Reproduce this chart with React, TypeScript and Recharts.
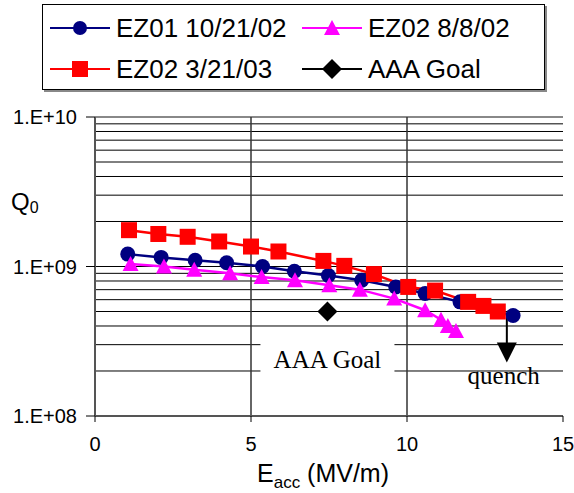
import React from 'react';
import {
  ComposedChart,
  Line,
  ReferenceDot,
  ReferenceLine,
  XAxis,
  YAxis,
} from 'recharts';

// EZ01 10/21/02
const ez01X = [1.05, 2.12, 3.21, 4.22, 5.37, 6.39, 7.48, 8.55, 9.64, 10.58, 11.7, 13.4];
const ez01Q = [1.21e9, 1.15e9, 1.1e9, 1.06e9, 1.0e9, 0.93e9, 0.87e9, 0.81e9, 0.73e9, 0.66e9, 0.58e9, 0.47e9];

// EZ02 8/8/02
const ez02aX = [1.14, 2.21, 3.18, 4.33, 5.34, 6.41, 7.51, 8.49, 9.59, 10.58, 11.09, 11.31, 11.57];
const ez02aQ = [1.04e9, 1.0e9, 0.95e9, 0.9e9, 0.85e9, 0.81e9, 0.75e9, 0.7e9, 0.61e9, 0.51e9, 0.44e9, 0.4e9, 0.37e9];

// EZ02 3/21/03
const ez02bX = [1.09, 2.03, 2.97, 3.98, 5.0, 5.88, 7.32, 7.99, 8.94, 10.04, 10.9, 11.96, 12.45, 12.91];
const ez02bQ = [1.75e9, 1.65e9, 1.58e9, 1.47e9, 1.36e9, 1.26e9, 1.09e9, 1.01e9, 0.89e9, 0.73e9, 0.69e9, 0.58e9, 0.545e9, 0.5e9];

// AAA Goal
const goalX = [7.45];
const goalQ = [5e8];

const xTicks = [0, 5, 10, 15];
const yTicks = [1e8, 1e9, 1e10];
const xGridValues = [5, 10];
const yGridValues = [
  2e8, 3e8, 4e8, 5e8, 6e8, 7e8, 8e8, 9e8, 1e9,
  2e9, 3e9, 4e9, 5e9, 6e9, 7e9, 8e9, 9e9,
];

// quench arrow and text labels
const quenchX = 13.2;
const quenchTop = 4.6e8;
const quenchShaftEnd = 3.0e8;
const quenchHead = 2.66e8;
const quenchLabel = { x: 13.1, y: 1.8e8, text: 'quench' };
const goalLabel = { x: 7.45, y: 2.37e8, text: 'AAA Goal' };

const BLUE = '#000080';
const MAGENTA = '#FF00FF';
const RED = '#FF0000';
const SANS = '"Liberation Sans", Arial, sans-serif';
const SERIF = '"Liberation Serif", "Times New Roman", serif';

const zip = (xs: number[], ys: number[]) => xs.map((x, i) => ({ x, y: ys[i] }));

const ez01 = zip(ez01X, ez01Q);
const ez02a = zip(ez02aX, ez02aQ);
const ez02b = zip(ez02bX, ez02bQ);
const goal = zip(goalX, goalQ);

function formatY(v: number): string {
  const e = Math.round(Math.log10(v));
  return `1.E+${String(e).padStart(2, '0')}`;
}

function circleDot(props: any) {
  const { cx, cy, index } = props;
  if (cx == null || cy == null) return <g key={index} />;
  return <circle key={index} cx={cx} cy={cy} r={7.5} fill={BLUE} />;
}

function squareDot(props: any) {
  const { cx, cy, index } = props;
  if (cx == null || cy == null) return <g key={index} />;
  return <rect key={index} x={cx - 8} y={cy - 8} width={16} height={16} fill={RED} />;
}

function triangleDot(props: any) {
  const { cx, cy, index } = props;
  if (cx == null || cy == null) return <g key={index} />;
  return (
    <polygon
      key={index}
      points={`${cx},${cy - 8} ${cx + 8},${cy + 7} ${cx - 8},${cy + 7}`}
      fill={MAGENTA}
    />
  );
}

function diamondDot(props: any) {
  const { cx, cy, index } = props;
  if (cx == null || cy == null) return <g key={index} />;
  return (
    <polygon
      key={index}
      points={`${cx},${cy - 10} ${cx + 10},${cy} ${cx},${cy + 10} ${cx - 10},${cy}`}
      fill="#000"
    />
  );
}

function LegendItem({ color, marker, label, left, top }: any) {
  return (
    <div style={{ position: 'absolute', left, top, display: 'flex', alignItems: 'center', height: 30 }}>
      <svg width={60} height={24}>
        <line x1={0} y1={12} x2={60} y2={12} stroke={color} strokeWidth={2} />
        {marker === 'circle' && <circle cx={30} cy={12} r={7} fill={color} />}
        {marker === 'square' && <rect x={22} y={4} width={16} height={16} fill={color} />}
        {marker === 'triangle' && <polygon points="30,4 38,19 22,19" fill={color} />}
        {marker === 'diamond' && <polygon points="30,2 40,12 30,22 20,12" fill={color} />}
      </svg>
      <span style={{ marginLeft: 6, fontFamily: SANS, fontSize: 26, color: '#000', whiteSpace: 'nowrap' }}>
        {label}
      </span>
    </div>
  );
}

export default function App() {
  return (
    <div style={{ position: 'absolute', left: 0, top: 0, width: 574, height: 493, background: '#fff' }}>
      <ComposedChart width={574} height={493} margin={{ top: 117, right: 11, bottom: 0, left: 0 }}>
        <XAxis
          type="number"
          dataKey="x"
          domain={[0, 15]}
          ticks={xTicks}
          allowDataOverflow
          height={77}
          tickSize={6}
          tickMargin={15}
          axisLine={{ stroke: '#555', strokeWidth: 2 }}
          tickLine={{ stroke: '#000' }}
          tick={{ fill: '#000', fontSize: 20, fontFamily: SANS }}
          label={{
            content: (p: any) => {
              const vb = p.viewBox;
              return (
                <text x={vb.x + vb.width / 2 - 6} y={vb.y + 66} textAnchor="middle" fontFamily={SANS} fontSize={25} fill="#000">
                  E<tspan fontSize={17} dy={6}>acc</tspan>
                  <tspan dy={-6} fontSize={25}> (MV/m)</tspan>
                </text>
              );
            },
          }}
        />
        <YAxis
          type="number"
          dataKey="y"
          scale="log"
          domain={[1e8, 1e10]}
          ticks={yTicks}
          allowDataOverflow
          width={95}
          tickSize={9}
          tickMargin={9}
          tickFormatter={formatY}
          axisLine={{ stroke: '#555', strokeWidth: 2 }}
          tickLine={{ stroke: '#000' }}
          tick={{ fill: '#000', fontSize: 20, fontFamily: SANS }}
          label={{
            content: () => (
              <text x={11} y={210} fontFamily={SANS} fontSize={24} fill="#000">
                Q<tspan fontSize={16} dy={3}>0</tspan>
              </text>
            ),
          }}
        />
        {yGridValues.map((v) => (
          <ReferenceLine key={`gy${v}`} y={v} stroke="#000" strokeWidth={1} />
        ))}
        <ReferenceLine y={1e10} stroke="#888" strokeWidth={2} />
        {xGridValues.map((v) => (
          <ReferenceLine key={`gx${v}`} x={v} stroke="#333" strokeWidth={1.5} />
        ))}
        <ReferenceDot
          x={goalLabel.x}
          y={goalLabel.y}
          ifOverflow="visible"
          shape={(p: any) => (
            <g>
              <rect x={p.cx - 67} y={p.cy - 25} width={134} height={48} fill="#fff" />
              <text x={p.cx} y={p.cy + 8} textAnchor="middle" fontFamily={SERIF} fontSize={25} fill="#000">
                {goalLabel.text}
              </text>
            </g>
          )}
        />
        <Line data={ez01} dataKey="y" type="linear" stroke={BLUE} strokeWidth={2.5} dot={circleDot} activeDot={false} isAnimationActive={false} />
        <Line data={ez02a} dataKey="y" type="linear" stroke={MAGENTA} strokeWidth={2.5} dot={triangleDot} activeDot={false} isAnimationActive={false} />
        <Line data={ez02b} dataKey="y" type="linear" stroke={RED} strokeWidth={2.5} dot={squareDot} activeDot={false} isAnimationActive={false} />
        <Line data={goal} dataKey="y" type="linear" stroke="#000" strokeWidth={2} dot={diamondDot} activeDot={false} isAnimationActive={false} />
        <ReferenceLine
          segment={[{ x: quenchX, y: quenchTop }, { x: quenchX, y: quenchShaftEnd }]}
          stroke="#000"
          strokeWidth={2}
          ifOverflow="visible"
        />
        <ReferenceDot
          x={quenchX}
          y={quenchHead}
          ifOverflow="visible"
          shape={(p: any) => (
            <polygon points={`${p.cx - 10},${p.cy - 10} ${p.cx + 10},${p.cy - 10} ${p.cx},${p.cy + 10}`} fill="#000" />
          )}
        />
        <ReferenceDot
          x={quenchLabel.x}
          y={quenchLabel.y}
          ifOverflow="visible"
          shape={(p: any) => (
            <text x={p.cx} y={p.cy + 6} textAnchor="middle" fontFamily={SERIF} fontSize={25} fill="#000">
              {quenchLabel.text}
            </text>
          )}
        />
      </ComposedChart>
      <div
        style={{
          position: 'absolute',
          left: 42,
          top: 4,
          width: 503,
          height: 86,
          border: '1px solid #000',
          boxShadow: '2px 2px 0 #888',
          background: '#fff',
          boxSizing: 'border-box',
        }}
      >
        <LegendItem color={BLUE} marker="circle" label="EZ01 10/21/02" left={7} top={8} />
        <LegendItem color={MAGENTA} marker="triangle" label="EZ02 8/8/02" left={259} top={8} />
        <LegendItem color={RED} marker="square" label="EZ02 3/21/03" left={7} top={49} />
        <LegendItem color="#000" marker="diamond" label="AAA Goal" left={259} top={49} />
      </div>
    </div>
  );
}
